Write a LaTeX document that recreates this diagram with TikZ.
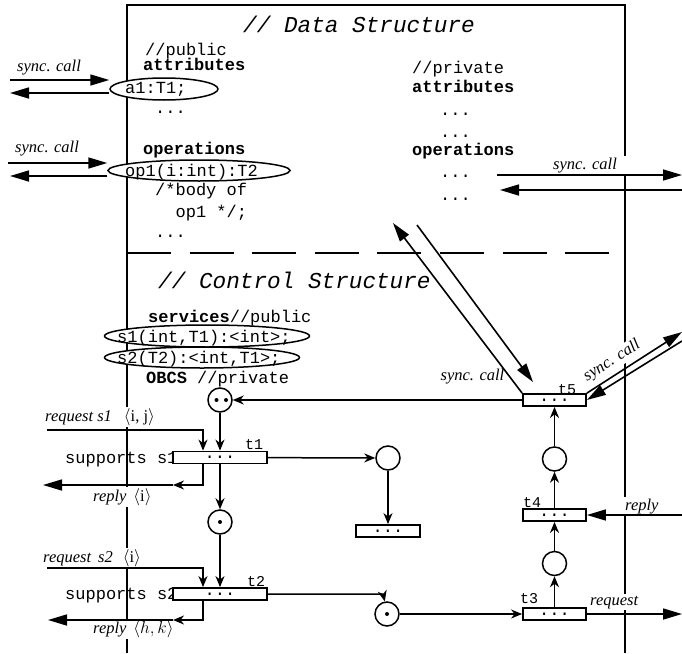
\documentclass[tikz,border=0pt]{standalone}
\usepackage{fontspec}
\setmainfont{Liberation Serif}
\newfontfamily\monofam{Liberation Mono}
\usetikzlibrary{arrows.meta,shapes.geometric}
\newcommand\codesz{\monofam\fontsize{17}{20}\selectfont}
\newcommand\headsz{\monofam\itshape\fontsize{22.7}{26}\selectfont}
\newcommand\tlabsz{\monofam\fontsize{15}{18}\selectfont}
\newcommand\annsz{\fontsize{16.5}{19}\selectfont}
\tikzset{
  code/.style={font=\codesz, inner sep=0pt, anchor=base west},
  bcode/.style={font=\codesz\bfseries, inner sep=0pt, anchor=base west},
  heading/.style={font=\headsz, inner sep=0pt, anchor=base west},
  tlab/.style={font=\tlabsz, inner sep=0pt, anchor=base west},
  ann/.style={font=\annsz\itshape, inner sep=1.5pt, fill=white},
  iface/.style={ellipse, draw, fill=white, line width=1.5pt, inner sep=0pt},
  trans/.style={rectangle, draw, fill=white, line width=1.8pt, minimum height=12pt, inner sep=0pt, font=\codesz},
  place/.style={circle, draw, fill=white, line width=1.5pt, minimum size=24pt, inner sep=0pt},
  arc/.style={line width=1.5pt, -{Stealth[length=11pt,width=9pt,inset=3.5pt]}},
  ext/.style={line width=1.6pt, -{Triangle[length=19pt,width=11pt]}},
  frame/.style={line width=2pt},
}
\begin{document}
\begin{tikzpicture}[x=1pt,y=-1pt]
\useasboundingbox (0,0) rectangle (682,653);

% object frame and the separator between data and control structure
\draw[frame] (127,653) -- (127,5) -- (625,5) -- (625,653);
\draw[line width=1.6pt, dash pattern=on 44pt off 18.6pt] (127,253) -- (610,253);

% headings
\node[heading] (dsh) at (243,32) {// Data Structure};
\node[heading] (csh) at (158,288) {// Control Structure};

% data structure, public part
\node[code] (pub) at (145,55) {//public};
\node[bcode] (attr) at (143,70) {attributes};
\node[code] (adots) at (155,113) {...};
\node[bcode] (oper) at (143,154) {operations};
\node[code] (body1) at (155,195) {/*body of};
\node[code] (body2) at (175.4,217) {op1 */;};
\node[code] (odots) at (155,237) {...};

% data structure, private part
\node[code] (priv) at (412,73) {//private};
\node[bcode] (pattr) at (412,92) {attributes};
\node[code] (pad1) at (440,115) {...};
\node[code] (pad2) at (440,137) {...};
\node[bcode] (poper) at (412,155) {operations};
\node[code] (pod1) at (440,177) {...};
\node[code] (pod2) at (440,200) {...};

% control structure texts
\node[code] (serv) at (148,322) {\textbf{services}//public};
\node[code] (obcsl) at (146,383) {\textbf{OBCS} //private};
\node[code] (sup1) at (65,463) {supports s1};
\node[code] (sup2) at (65,599) {supports s2};

% annotations of the interface arrows
\node[ann, anchor=base west] (scl1) at (15.5,71) {sync. call};
\node[ann, anchor=base west] (scl2) at (13.5,152) {sync. call};
\node[ann, anchor=base west, inner xsep=10pt] (scr1) at (543,169) {sync. call};
\node[ann, fill=none, anchor=base east] (sct5) at (506,380) {sync. call};
\node[ann, rotate=32.4] (scr2) at (612,361) {sync. call};
\node[ann, anchor=base west] (rq1l) at (43.5,421) {request s1\hspace{12pt}\upshape$\langle$i, j$\rangle$};
\node[ann, anchor=base west] (rp1l) at (91.5,501) {reply\hspace{7pt}\upshape$\langle$i$\rangle$};
\node[ann, anchor=base west] (rq2l) at (41.5,562) {request\hspace{7pt}s2\hspace{10pt}\upshape$\langle$i$\rangle$};
\node[ann, anchor=base west] (rp2l) at (91.5,633) {reply\hspace{7pt}$\langle h,k\rangle$};
\node[ann, anchor=base west] (rpr) at (623.5,510) {reply};
\node[ann, anchor=base west] (rqr) at (588.5,605) {request};

% interface ellipses
\node[iface, minimum width=108pt, minimum height=22pt] (a1) at (164,89) {};
\node[code] (a1t) at (125,93) {a1:T1;};
\node[iface, minimum width=182pt, minimum height=21pt] (op1) at (199,170.5) {};
\node[code] (op1t) at (125,176) {op1(i:int):T2};
\node[iface, minimum width=205pt, minimum height=22pt] (s1) at (207,336) {};
\node[code] (s1t) at (117,342) {s1(int,T1):<int>;};
\node[iface, minimum width=195pt, minimum height=21pt] (s2) at (202,357.5) {};
\node[code] (s2t) at (117,363) {s2(T2):<int,T1>;};

% transitions
\node[trans, minimum width=94pt] (t1) at (220,457.5) {...};
\node[trans, minimum width=94pt] (t2) at (220,594) {...};
\node[trans, minimum width=64pt] (t6) at (388,531) {...};
\node[trans, minimum width=63pt] (t3) at (554.5,614) {...};
\node[trans, minimum width=63pt] (t4) at (554.5,515) {...};
\node[trans, minimum width=63pt] (t5) at (554.5,400) {...};
\node[tlab] (t1l) at (245,449) {t1};
\node[tlab] (t2l) at (247,586) {t2};
\node[tlab] (t3l) at (520,603) {t3};
\node[tlab] (t4l) at (523,507) {t4};
\node[tlab] (t5l) at (558,394) {t5};

% places and tokens
\node[place] (obcs) at (220,400) {};
\node[place] (p2) at (220,522) {};
\node[place] (p3) at (388,458) {};
\node[place] (p4) at (387,614) {};
\node[place] (p5) at (554.5,563.5) {};
\node[place] (p6) at (554.5,459) {};
\fill (obcs.center) ++(-3.5,0) circle (2pt) ++(9.5,0) circle (2pt);
\fill (p2.center) circle (2pt);
\fill (p4.center) circle (2pt);

% free ends of connectors
\coordinate (a1in) at (10,80);
\coordinate (a1out) at (10,93);
\coordinate (op1in) at (8,163);
\coordinate (op1out) at (10,176);
\coordinate (ds1) at (497,175);
\coordinate (ds1o) at (682,175);
\coordinate (ds2i) at (682,190);
\coordinate (ds2) at (500,190);
\coordinate (dg1) at (393,223);
\coordinate (dg2a) at (417,225);
\coordinate (dg2b) at (533,382);
\coordinate (ex1) at (682,332);
\coordinate (ex2) at (682,341);
\coordinate (rq1a) at (47,430);
\coordinate (rq1b) at (203,430);
\coordinate (rp1a) at (203,485);
\coordinate (rp1b) at (173,485);
\coordinate (rp1c) at (43,485);
\coordinate (rq2a) at (47,568);
\coordinate (rq2b) at (203,568);
\coordinate (rp2a) at (203,620);
\coordinate (rp2b) at (173,620);
\coordinate (rp2c) at (48,620);
\coordinate (p4in) at (383,594);
\coordinate (rpin) at (682,515);
\coordinate (rqout) at (682,614);

% synchronous calls
\draw[ext] (a1in) -- (a1in -| a1.west);
\draw[ext] (a1out -| a1.west) -- (a1out);
\draw[ext] (op1in) -- (op1in -| op1.west);
\draw[ext] (op1out -| op1.west) -- (op1out);
\draw[ext] (ds1) -- (ds1o);
\draw[ext] (ds2i) -- (ds2);
\draw[ext] (t5.north west) -- (dg1);
\draw[ext] (dg2a) -- (dg2b);
\draw[ext] (t5.north east) -- (ex1);
\draw[ext] (ex2) -- (t5.east);

% service requests and replies
\draw[arc] (rq1a) -- (rq1b) -- (rq1b |- t1.north);
\draw[arc] (rp1a |- t1.south) -- (rp1a) -- (rp1b);
\draw[ext] (rp1b) -- (rp1c);
\draw[arc] (rq2a) -- (rq2b) -- (rq2b |- t2.north);
\draw[arc] (rp2a |- t2.south) -- (rp2a) -- (rp2b);
\draw[ext] (rp2b) -- (rp2c);
\draw[ext] (rpin) -- (t4.east);
\draw[ext] (t3.east) -- (rqout);

% net arcs
\draw[arc] (obcs) -- (t1.north -| obcs);
\draw[arc] (t1) -- (p2);
\draw[arc] (p2) -- (t2);
\draw[arc] (t1) -- (p3);
\draw[arc] (p3) -- (t6);
\draw[arc] (t2.east) -- (p4in) -- (p4.100);
\draw[arc] (p4) -- (t3);
\draw[arc] (t3) -- (p5);
\draw[arc] (p5) -- (t4);
\draw[arc] (t4) -- (p6);
\draw[arc] (p6) -- (t5);
\draw[arc] (t5.west) -- (obcs);
\end{tikzpicture}
\end{document}
